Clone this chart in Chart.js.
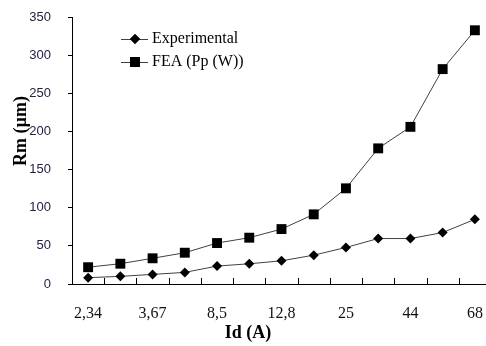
<!DOCTYPE html>
<html>
<head>
<meta charset="utf-8">
<script src="https://cdn.jsdelivr.net/npm/chart.js@4/dist/chart.umd.min.js"></script>
<style>
  html, body { margin: 0; padding: 0; background: #ffffff; overflow: hidden; }
  #wrap { width: 491px; height: 346px; }
  canvas { display: block; }
</style>
</head>
<body>
<div id="wrap"><canvas id="chart" width="491" height="346"></canvas></div>
<script>
// categories (only every other one is labelled on the original axis)
var categories = ['2,34', '', '3,67', '', '8,5', '', '12,8', '', '25', '', '44', '', '68'];
var experimental = [8.3, 10, 12.6, 15.2, 23.5, 26.5, 30.4, 37.8, 47.9, 59.6, 59.6, 67.4, 84.8];
var fea = [22, 26.6, 33.7, 41, 53.7, 60.7, 72, 91.3, 125.4, 177.8, 206, 281.7, 332.6];
var yTicks = [0, 50, 100, 150, 200, 250, 300, 350];
var seriesNames = ['Experimental', 'FEA (Pp (W))'];

// legend, axis titles and inward x ticks
var extras = {
    id: 'extras',
    afterDraw: function(chart) {
        var ctx = chart.ctx;
        var area = chart.chartArea;
        var xs = chart.scales.x;
        ctx.save();

        // short ticks pointing up, between categories
        ctx.strokeStyle = '#000';
        ctx.lineWidth = 1;
        for (var i = 0; i < categories.length - 1; i++) {
            var px = Math.round((xs.getPixelForValue(i) + xs.getPixelForValue(i + 1)) / 2) + 0.5;
            ctx.beginPath();
            ctx.moveTo(px, area.bottom);
            ctx.lineTo(px, area.bottom - 6);
            ctx.stroke();
        }

        // legend
        var styles = ['rectRot', 'rect'];
        var radii = [5, 7];
        for (var k = 0; k < 2; k++) {
            var ly = area.top + 22 + k * 23;
            ctx.strokeStyle = '#404040';
            ctx.beginPath();
            ctx.moveTo(area.left + 49, ly + 0.5);
            ctx.lineTo(area.left + 76, ly + 0.5);
            ctx.stroke();
            ctx.fillStyle = '#000';
            Chart.helpers.drawPoint(ctx, {pointStyle: styles[k], radius: radii[k], borderWidth: 0}, area.left + 63, ly);
            ctx.fill();
            ctx.font = '16px "Liberation Serif", serif';
            ctx.textAlign = 'left';
            ctx.textBaseline = 'middle';
            ctx.fillText(seriesNames[k], area.left + 80, ly);
        }

        // axis titles
        ctx.fillStyle = '#000';
        ctx.font = 'bold 18px "Liberation Serif", serif';
        ctx.textAlign = 'center';
        ctx.textBaseline = 'middle';
        ctx.fillText('Id (A)', 248, 333);
        ctx.translate(21, 131);
        ctx.rotate(-Math.PI / 2);
        ctx.fillText('Rm (µm)', 0, 0);
        ctx.restore();
    }
};

var chart = new Chart(document.getElementById('chart').getContext('2d'), {
    type: 'line',
    data: {
        labels: categories,
        datasets: [{
            label: seriesNames[0],
            data: experimental,
            borderColor: '#404040',
            borderWidth: 1,
            pointStyle: 'rectRot',
            pointRadius: 5,
            pointBackgroundColor: '#000',
            pointBorderWidth: 0,
            tension: 0
        }, {
            label: seriesNames[1],
            data: fea,
            borderColor: '#404040',
            borderWidth: 1,
            pointStyle: 'rect',
            pointRadius: 7,
            pointBackgroundColor: '#000',
            pointBorderWidth: 0,
            tension: 0
        }]
    },
    options: {
        responsive: false,
        animation: false,
        layout: { autoPadding: false, padding: { top: 17, left: 0, right: 0, bottom: 0 } },
        plugins: {
            legend: { display: false },
            tooltip: { enabled: false }
        },
        scales: {
            x: {
                offset: true,
                grid: { display: false, drawTicks: false },
                border: { color: '#000', width: 1 },
                ticks: {
                    autoSkip: false,
                    maxRotation: 0,
                    padding: 20,
                    color: '#111',
                    font: { family: '"Liberation Serif", serif', size: 16 }
                },
                afterFit: function(scale) {
                    scale.height = 62;
                    scale.paddingLeft = 0;
                    scale.paddingRight = 0;
                }
            },
            y: {
                min: 0,
                max: 350,
                afterBuildTicks: function(scale) {
                    scale.ticks = yTicks.map(function(v) { return { value: v }; });
                },
                grid: { drawOnChartArea: false, tickLength: 4, color: '#000' },
                border: { color: '#000', width: 1 },
                ticks: {
                    padding: 17,
                    color: '#222244',
                    font: { family: '"Liberation Sans", Arial, sans-serif', size: 13 }
                },
                afterFit: function(scale) {
                    scale.width = 72;
                    scale.paddingTop = 0;
                    scale.paddingBottom = 0;
                }
            }
        }
    },
    plugins: [extras]
});
</script>
</body>
</html>
